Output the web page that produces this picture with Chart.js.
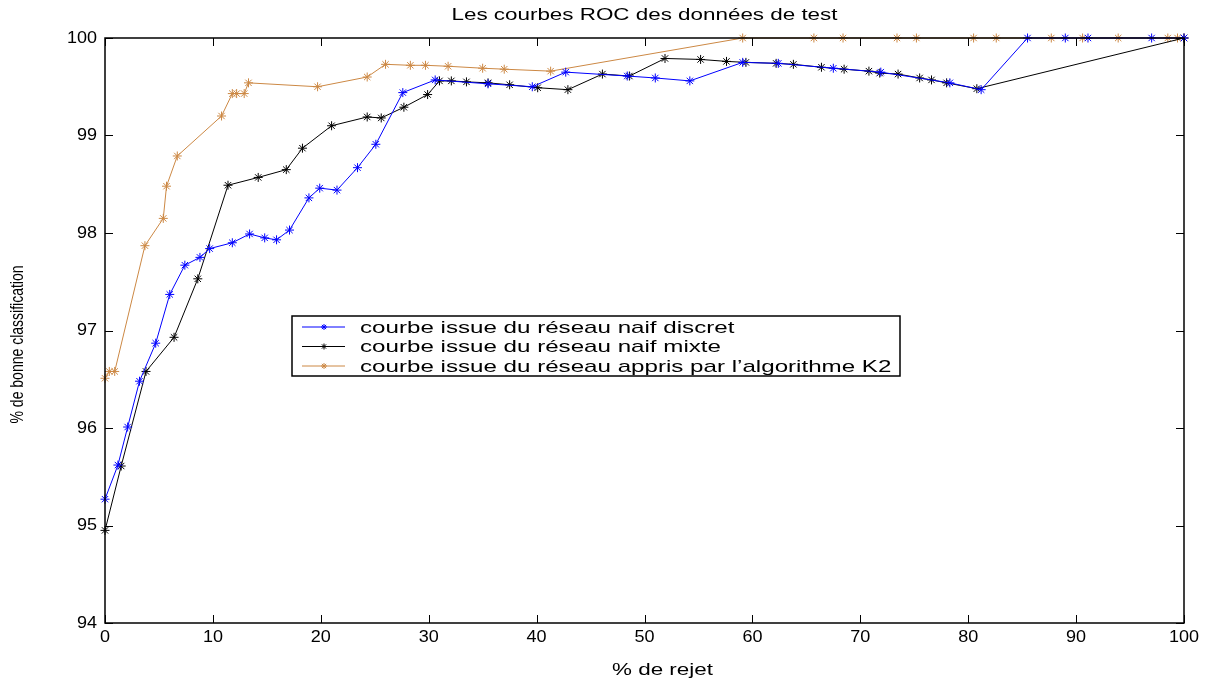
<!DOCTYPE html>
<html>
<head>
<meta charset="utf-8">
<script src="https://cdn.jsdelivr.net/npm/chart.js@4/dist/chart.umd.min.js"></script>
<style>
  html, body { margin: 0; padding: 0; background: #fff; }
  #wrap { width: 1209px; height: 683px; }
</style>
</head>
<body>
<div id="wrap"><canvas id="roc"></canvas></div>
<script>
// Data
const discretX = [0, 1.2, 2.1, 3.2, 4.7, 6.0, 7.4, 8.8, 9.7, 11.8, 13.4, 14.8, 15.9, 17.1, 18.9, 19.9, 21.5, 23.4, 25.1, 27.6, 30.6, 35.5, 39.6, 42.7, 48.4, 51.0, 54.2, 59.1, 62.4, 67.5, 71.9, 78.3, 81.2, 85.5, 89.0, 91.1, 97.0, 100];
const discretY = [95.27, 95.62, 96.01, 96.48, 96.87, 97.37, 97.67, 97.75, 97.84, 97.90, 97.99, 97.95, 97.93, 98.03, 98.36, 98.46, 98.44, 98.67, 98.91, 99.44, 99.57, 99.53, 99.50, 99.65, 99.61, 99.59, 99.56, 99.75, 99.74, 99.69, 99.65, 99.54, 99.47, 100, 100, 100, 100, 100];

const mixteX = [0, 1.5, 3.8, 6.4, 8.6, 11.4, 14.2, 16.8, 18.3, 21.0, 24.3, 25.6, 27.7, 29.9, 31.0, 32.1, 33.5, 35.5, 37.5, 40.1, 42.9, 46.1, 48.6, 51.9, 55.2, 57.6, 59.4, 62.2, 63.8, 66.4, 68.5, 70.8, 71.8, 73.5, 75.5, 76.6, 78.0, 80.8, 100];
const mixteY = [94.95, 95.61, 96.58, 96.93, 97.53, 98.49, 98.57, 98.65, 98.87, 99.10, 99.19, 99.18, 99.29, 99.42, 99.56, 99.56, 99.55, 99.54, 99.52, 99.49, 99.47, 99.63, 99.61, 99.79, 99.78, 99.76, 99.75, 99.74, 99.73, 99.70, 99.68, 99.66, 99.64, 99.63, 99.59, 99.57, 99.54, 99.48, 100];

const k2X = [0, 0.4, 0.9, 3.7, 5.4, 5.7, 6.7, 10.8, 11.8, 12.2, 12.9, 13.3, 19.7, 24.3, 26.0, 28.3, 29.7, 31.8, 35.0, 37.0, 41.3, 59.1, 65.7, 68.4, 73.4, 75.2, 80.5, 82.6, 87.7, 90.6, 93.9, 98.5, 99.4, 100];
const k2Y = [96.51, 96.58, 96.58, 97.87, 98.15, 98.48, 98.79, 99.20, 99.43, 99.43, 99.43, 99.54, 99.50, 99.60, 99.73, 99.72, 99.72, 99.71, 99.69, 99.68, 99.66, 100, 100, 100, 100, 100, 100, 100, 100, 100, 100, 100, 100, 100];

const seriesLabels = [
  'courbe issue du réseau naif discret',
  'courbe issue du réseau naif mixte',
  "courbe issue du réseau appris par l’algorithme K2"
];
const seriesColors = ['#0000ff', '#000000', '#cc8844'];

const xTicks = [0, 10, 20, 30, 40, 50, 60, 70, 80, 90, 100];
const yTicks = [94, 95, 96, 97, 98, 99, 100];

const chartTitle = 'Les courbes ROC des données de test';
const xTitle = '% de rejet';
const yTitle = '% de bonne classification';

const FONT = '"Liberation Sans", Arial, sans-serif';

function toPoints(xs, ys) {
  return xs.map((x, i) => ({ x: x, y: ys[i] }));
}

function makeDataset(label, xs, ys, color) {
  return {
    label: label,
    data: toPoints(xs, ys),
    borderColor: color,
    backgroundColor: color,
    borderWidth: 1,
    pointStyle: 'star',
    pointRadius: 4.5,
    pointBorderWidth: 1,
    pointHoverRadius: 4.5,
    tension: 0,
    clip: false
  };
}

// the original picture is stretched sideways, so text gets a horizontal scale
function stretchText(ctx, text, x, y, size, sx, align) {
  ctx.save();
  ctx.translate(x, y);
  ctx.scale(sx, 1);
  ctx.font = size + 'px ' + FONT;
  ctx.textAlign = align;
  ctx.textBaseline = 'middle';
  ctx.fillText(text, 0, 0);
  ctx.restore();
}

// Frame, inward ticks on all four sides, labels, title and boxed legend
const matlabFrame = {
  id: 'matlabFrame',
  afterDatasetsDraw(chart) {
    const ctx = chart.ctx;
    const a = chart.chartArea;
    const xs = chart.scales.x;
    const ys = chart.scales.y;
    const tl = 8;
    ctx.save();
    ctx.strokeStyle = '#000';
    ctx.lineWidth = 1.5;
    ctx.strokeRect(a.left, a.top, a.right - a.left, a.bottom - a.top);
    ctx.lineWidth = 1;
    ctx.beginPath();
    xTicks.forEach(v => {
      const px = Math.round(xs.getPixelForValue(v)) + 0.5;
      ctx.moveTo(px, a.bottom); ctx.lineTo(px, a.bottom - tl);
      ctx.moveTo(px, a.top); ctx.lineTo(px, a.top + tl);
    });
    yTicks.forEach(v => {
      const py = Math.round(ys.getPixelForValue(v)) + 0.5;
      ctx.moveTo(a.left, py); ctx.lineTo(a.left + tl, py);
      ctx.moveTo(a.right, py); ctx.lineTo(a.right - tl, py);
    });
    ctx.stroke();

    ctx.fillStyle = '#000';
    // tick labels
    xTicks.forEach(v => stretchText(ctx, String(v), xs.getPixelForValue(v), a.bottom + 14, 17, 1.06, 'center'));
    yTicks.forEach(v => stretchText(ctx, String(v), a.left - 8, ys.getPixelForValue(v), 17, 1.06, 'right'));

    // titles
    stretchText(ctx, chartTitle, (a.left + a.right) / 2, 16, 16, 1.4, 'center');
    stretchText(ctx, xTitle, (a.left + a.right) / 2 + 18, 671, 16, 1.4, 'center');
    ctx.save();
    ctx.translate(18, (a.top + a.bottom) / 2 + 14);
    ctx.rotate(-Math.PI / 2);
    ctx.scale(1.0, 1.3);
    ctx.font = '14px ' + FONT;
    ctx.textAlign = 'center';
    ctx.textBaseline = 'middle';
    ctx.fillText(yTitle, 0, 0);
    ctx.restore();

    // legend box
    const lx = 292, ly = 316, lw = 608, lh = 60;
    ctx.fillStyle = '#fff';
    ctx.fillRect(lx, ly, lw, lh);
    ctx.strokeStyle = '#000';
    ctx.lineWidth = 1.5;
    ctx.strokeRect(lx, ly, lw, lh);
    seriesLabels.forEach((lab, i) => {
      const y = ly + 11 + i * 19.5;
      ctx.strokeStyle = seriesColors[i];
      ctx.lineWidth = 1;
      ctx.beginPath();
      ctx.moveTo(lx + 10, y); ctx.lineTo(lx + 53, y);
      ctx.stroke();
      Chart.helpers.drawPoint(ctx, { pointStyle: 'star', radius: 3, borderWidth: 1 }, lx + 32, y);
      ctx.fillStyle = '#000';
      stretchText(ctx, lab, lx + 68, y + 1, 17, 1.42, 'left');
    });
    ctx.restore();
  }
};

const ctx = document.getElementById('roc').getContext('2d');
new Chart(ctx, {
  type: 'line',
  data: {
    datasets: [
      makeDataset(seriesLabels[0], discretX, discretY, seriesColors[0]),
      makeDataset(seriesLabels[1], mixteX, mixteY, seriesColors[1]),
      makeDataset(seriesLabels[2], k2X, k2Y, seriesColors[2])
    ]
  },
  options: {
    responsive: true,
    maintainAspectRatio: false,
    animation: false,
    layout: { padding: { top: 38, right: 25, left: 0, bottom: 0 } },
    plugins: {
      legend: { display: false },
      title: { display: false },
      tooltip: { enabled: false }
    },
    scales: {
      x: {
        type: 'linear',
        min: 0,
        max: 100,
        afterBuildTicks: s => { s.ticks = xTicks.map(v => ({ value: v })); },
        afterFit: s => { s.height = 60; },
        grid: { display: false, drawTicks: false },
        border: { display: false },
        ticks: { display: false }
      },
      y: {
        min: 94,
        max: 100,
        afterBuildTicks: s => { s.ticks = yTicks.map(v => ({ value: v })); },
        afterFit: s => { s.width = 105; },
        grid: { display: false, drawTicks: false },
        border: { display: false },
        ticks: { display: false }
      }
    }
  },
  plugins: [matlabFrame]
});
</script>
</body>
</html>
